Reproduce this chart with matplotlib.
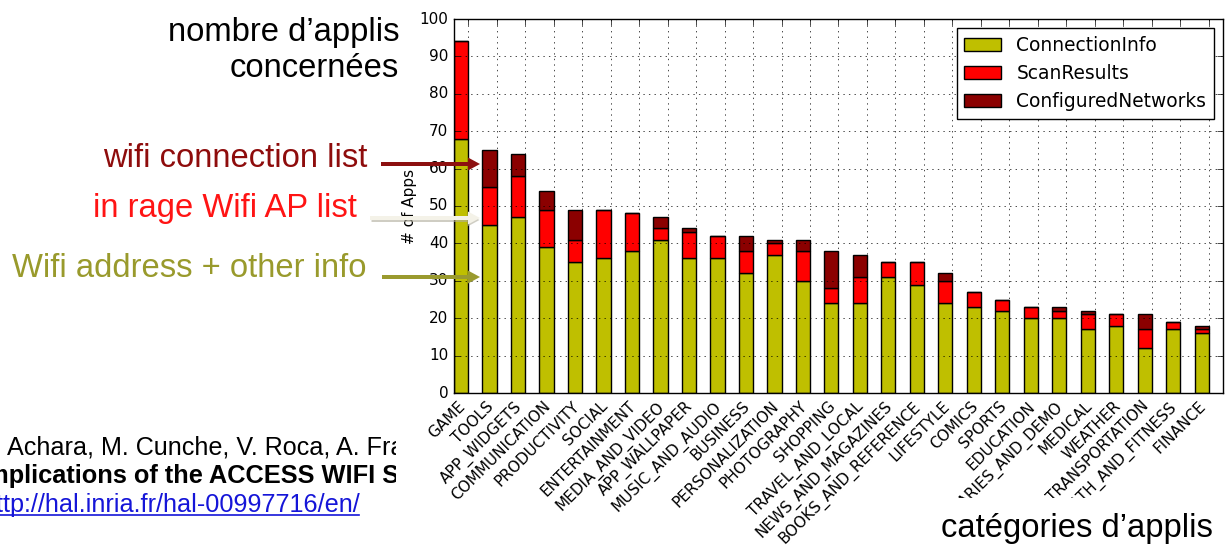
import matplotlib
matplotlib.use('Agg')
import matplotlib.pyplot as plt
from matplotlib.patches import FancyArrow, Rectangle
from matplotlib.transforms import Bbox, TransformedBbox

# données
categories = ['GAME', 'TOOLS', 'APP_WIDGETS', 'COMMUNICATION', 'PRODUCTIVITY', 'SOCIAL',
              'ENTERTAINMENT', 'MEDIA_AND_VIDEO', 'APP_WALLPAPER', 'MUSIC_AND_AUDIO',
              'BUSINESS', 'PERSONALIZATION', 'PHOTOGRAPHY', 'SHOPPING', 'TRAVEL_AND_LOCAL',
              'NEWS_AND_MAGAZINES', 'BOOKS_AND_REFERENCE', 'LIFESTYLE', 'COMICS', 'SPORTS',
              'EDUCATION', 'LIBRARIES_AND_DEMO', 'MEDICAL', 'WEATHER', 'TRANSPORTATION',
              'HEALTH_AND_FITNESS', 'FINANCE']
connection_info = [68, 45, 47, 39, 35, 36, 38, 41, 36, 36, 32, 37, 30, 24, 24, 31, 29, 24,
                   23, 22, 20, 20, 17, 18, 12, 17, 16]
scan_results = [26, 10, 11, 10, 6, 13, 10, 3, 7, 6, 6, 3, 8, 4, 7, 4, 6, 6, 4, 3, 3, 2, 4,
                3, 5, 2, 1]
configured_networks = [0, 10, 6, 5, 8, 0, 0, 3, 1, 0, 4, 1, 3, 10, 6, 0, 0, 2, 0, 0, 0, 1,
                       1, 0, 4, 0, 1]

plt.style.use('classic')
plt.rcParams['figure.facecolor'] = 'white'
plt.rcParams['savefig.facecolor'] = 'white'
plt.rcParams['font.family'] = ['DejaVu Sans']

W, H = 1228, 545
fig = plt.figure(figsize=(W / 100, H / 100), dpi=100)

# le graphique
ax = fig.add_axes([454 / W, 1 - 393 / H, 769 / W, 374 / H])
x = list(range(len(categories)))
width = 0.5
bottom2 = [a + b for a, b in zip(connection_info, scan_results)]
ax.bar(x, connection_info, width, color='y', edgecolor='k', align='edge', label='ConnectionInfo')
ax.bar(x, scan_results, width, bottom=connection_info, color='r', edgecolor='k', align='edge',
       label='ScanResults')
ax.bar(x, configured_networks, width, bottom=bottom2, color='darkred', edgecolor='k',
       align='edge', label='ConfiguredNetworks')
ax.set_xlim(0, len(categories))
ax.set_ylim(0, 100)
ax.set_yticks(range(0, 101, 10))
ax.set_xticks([i + width for i in x])
ax.set_xticklabels(categories, rotation=45, ha='right', fontsize=11)
ax.tick_params(axis='y', labelsize=11)
ax.set_ylabel('# of Apps', fontsize=11, labelpad=2)
ax.grid(True)
ax.legend(loc='upper right', prop={'size': 13.4})

# la diapo par-dessus
ov = fig.add_axes([0, 0, 1, 1], zorder=10)
ov.set_xlim(0, W)
ov.set_ylim(H, 0)
ov.axis('off')

ov.add_patch(Rectangle((900, 498), W - 900, H - 498, facecolor='white', edgecolor='none'))

sans = 'Liberation Sans'
big = 23.6
ov.text(399, 40.7, 'nombre d\u2019applis', ha='right', va='baseline', fontsize=big, family=sans)
ov.text(399, 77.3, 'concern\u00e9es', ha='right', va='baseline', fontsize=big, family=sans)
ov.text(367, 166.7, 'wifi connection list', ha='right', va='baseline', fontsize=big,
        family=sans, color='#8e0c0c')
ov.text(357, 216.7, 'in rage Wifi AP list', ha='right', va='baseline', fontsize=big,
        family=sans, color='#ff1414')
ov.text(367, 276.7, 'Wifi address + other info', ha='right', va='baseline', fontsize=big,
        family=sans, color='#999a2c')
ov.text(1213, 536.7, 'cat\u00e9gories d\u2019applis', ha='right', va='baseline', fontsize=big,
        family=sans)

# fleches
ov.add_patch(FancyArrow(381, 164, 99, 0, width=4, head_width=13, head_length=12,
                        length_includes_head=True, color='#8c1010', lw=0))
ov.add_patch(FancyArrow(371.5, 220, 108, 0, width=4, head_width=13, head_length=12,
                        length_includes_head=True, color='#b0ad9c', alpha=0.6, lw=0))
ov.add_patch(FancyArrow(370, 218, 110, 0, width=4, head_width=13, head_length=12,
                        length_includes_head=True, color='#f4f2e8', lw=0))
ov.add_patch(FancyArrow(382, 277, 98, 0, width=4, head_width=13, head_length=12,
                        length_includes_head=True, color='#9a9a2e', lw=0))

# reference, coupee par l'image du graphique
clip = TransformedBbox(Bbox.from_extents(0, 0, 396 / W, 1), fig.transFigure)
refs = [
    (7, 455, 'Achara, M. Cunche, V. Roca, A. Francillon', 'normal', 'black', 18.1),
    (-21, 483.3, 'Implications of the ACCESS WIFI STATE Android Permission', 'bold', 'black',
     18.3),
    (-18, 511.7, 'http://hal.inria.fr/hal-00997716/en/', 'normal', '#1515d8', 18.2),
]
for rx, ry, txt, fw, col, fs in refs:
    t = ov.text(rx, ry, txt, ha='left', va='baseline', fontsize=fs, family=sans,
                fontweight=fw, color=col, clip_on=True)
    t.set_clip_box(clip)
ov.plot([0, 359], [515, 515], color='#1515d8', lw=1.2)

fig.savefig('out.png', dpi=100)
